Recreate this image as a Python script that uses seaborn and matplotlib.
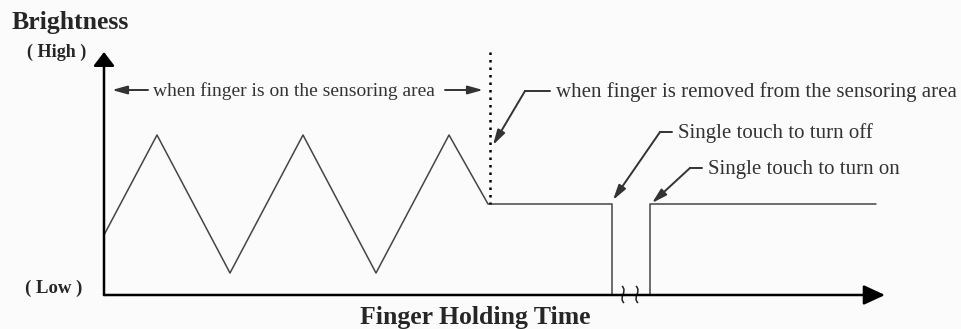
import pandas as pd
import seaborn as sns
import matplotlib.pyplot as plt
from matplotlib.path import Path
from matplotlib.patches import PathPatch

# Brightness waveform (time in chart units, brightness level)
hold_time = [0, 53, 126, 199, 272, 345, 384, 508, 508]
hold_level = [60, 160, 22, 160, 22, 160, 91, 91, 0]
resume_time = [546, 546, 772]
resume_level = [0, 91, 91]

release_time = 386      # finger removed (dotted marker)
break_times = [519, 533]
axis_top = 243
axis_end = 781

df = pd.DataFrame({
    'time': hold_time + resume_time,
    'level': hold_level + resume_level,
    'segment': ['hold'] * len(hold_time) + ['resume'] * len(resume_time),
})

sns.set_style('white')
plt.rcParams['font.family'] = ['Liberation Serif', 'DejaVu Serif']

fig = plt.figure(figsize=(9.61, 3.29), dpi=100, facecolor='#fbfbfb')
ax = fig.add_axes([0, 0, 1, 1])
ax.set_xlim(-104, 857)
ax.set_ylim(-34, 295)

# Waveform
sns.lineplot(data=df, x='time', y='level', units='segment', estimator=None,
             sort=False, color='#454545', lw=1.1, ax=ax)

# Axes with arrow heads
ax.annotate('', xy=(0, axis_top), xytext=(0, 0),
            arrowprops=dict(arrowstyle='-|>,head_length=0.42,head_width=0.32',
                            lw=1.8, color='black', mutation_scale=20,
                            shrinkA=0, shrinkB=0))
ax.annotate('', xy=(axis_end, 0), xytext=(0, 0),
            arrowprops=dict(arrowstyle='-|>,head_length=0.65,head_width=0.3',
                            lw=1.8, color='black', mutation_scale=20,
                            shrinkA=0, shrinkB=0))

# Break marks on the time axis
for bx in break_times:
    verts = [(bx - 1, 9), (bx + 5, 3), (bx - 5, -2), (bx + 1, -8)]
    path = Path(verts, [Path.MOVETO, Path.CURVE4, Path.CURVE4, Path.CURVE4])
    ax.add_patch(PathPatch(path, fill=False, lw=1.1, color='#222222'))

# Dotted line where finger is removed
ax.plot([release_time, release_time], [axis_top, hold_level[6]],
        color='black', lw=1.8, linestyle=(0, (1, 2)))

ann_color = '#333333'
arrow_kw = dict(arrowstyle='-|>,head_length=0.9,head_width=0.25', lw=1.4,
                color=ann_color, mutation_scale=10, shrinkA=0, shrinkB=0)

# "on the sensoring area" span
ax.text(190, 199, 'when finger is on the sensoring area', fontsize=14,
        color=ann_color, ha='center', va='baseline')
ax.annotate('', xy=(8, 205), xytext=(44, 205), arrowprops=arrow_kw)
ax.annotate('', xy=(release_time - 7, 205), xytext=(341, 205), arrowprops=arrow_kw)

# Leader callouts: (corner x, y, leader length, tip x, tip y, text)
callouts = [
    (421, 204, 25, release_time + 3, 150, 'when finger is removed from the sensoring area'),
    (556, 163, 12, hold_time[-1] + 1, 95, 'Single touch to turn off'),
    (586, 127, 12, resume_time[0] + 2, 92, 'Single touch to turn on'),
]
for cx, cy, leader, tx, ty, label in callouts:
    ax.plot([cx, cx + leader], [cy, cy], color=ann_color, lw=1.4)
    ax.annotate('', xy=(tx, ty), xytext=(cx, cy), arrowprops=arrow_kw)
    ax.text(cx + leader + 6, cy - 6, label, fontsize=15,
            color=ann_color, ha='left', va='baseline')

# Axis labels
ax.text(-92, 266, 'Brightness', fontsize=18.5, fontweight='bold', ha='left', va='baseline')
ax.text(-77, 238, '( High )', fontsize=13, fontweight='bold', ha='left', va='baseline')
ax.text(-79, 2, '( Low )', fontsize=13.5, fontweight='bold', ha='left', va='baseline')
ax.text(371, -29, 'Finger Holding Time', fontsize=18.5, fontweight='bold',
        ha='center', va='baseline')

ax.set_axis_off()
plt.savefig('out.png', dpi=100, facecolor=fig.get_facecolor())
